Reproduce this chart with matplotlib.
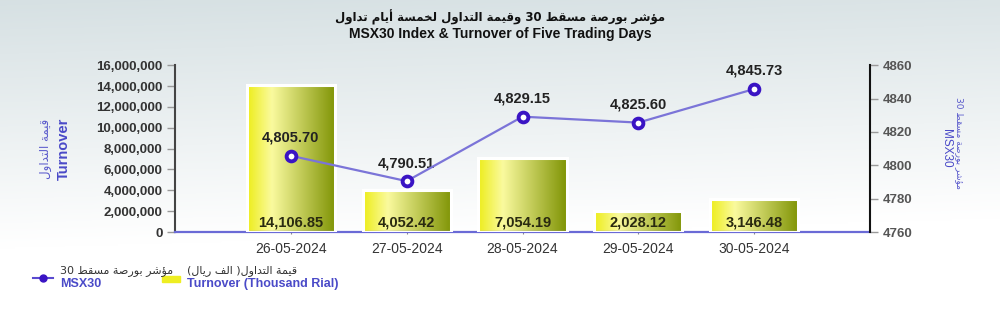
import re
import numpy as np
import matplotlib
matplotlib.use("Agg")
import matplotlib.pyplot as plt
from matplotlib.lines import Line2D
from matplotlib.patches import Rectangle

# ---------------- data ----------------
dates = ["26-05-2024", "27-05-2024", "28-05-2024", "29-05-2024", "30-05-2024"]
turnover_k = [14106.85, 4052.42, 7054.19, 2028.12, 3146.48]      # thousand rial
msx30 = [4805.70, 4790.51, 4829.15, 4825.60, 4845.73]
left_ticks = [0, 2000000, 4000000, 6000000, 8000000, 10000000, 12000000, 14000000, 16000000]
right_ticks = [4760, 4780, 4800, 4820, 4840, 4860]

title_ar = "مؤشر بورصة مسقط 30 وقيمة التداول لخمسة أيام تداول"
title_en = "MSX30 Index & Turnover of Five Trading Days"
ylab_left_ar = "قيمة التداول"
ylab_left_en = "Turnover"
ylab_right_ar = "مؤشر بورصة مسقط 30"
ylab_right_en = "MSX30"
leg1_ar = "مؤشر بورصة مسقط 30"
leg1_en = "MSX30"
leg2_ar = "قيمة التداول( الف ريال)"
leg2_en = "Turnover (Thousand Rial)"

# ---------------- minimal Arabic shaping ----------------
_BASE = [("\u0621", 0xFE80, 1), ("\u0622", 0xFE81, 2), ("\u0623", 0xFE83, 2),
         ("\u0624", 0xFE85, 2), ("\u0625", 0xFE87, 2), ("\u0626", 0xFE89, 4),
         ("\u0627", 0xFE8D, 2), ("\u0628", 0xFE8F, 4), ("\u0629", 0xFE93, 2),
         ("\u062A", 0xFE95, 4), ("\u062B", 0xFE99, 4), ("\u062C", 0xFE9D, 4),
         ("\u062D", 0xFEA1, 4), ("\u062E", 0xFEA5, 4), ("\u062F", 0xFEA9, 2),
         ("\u0630", 0xFEAB, 2), ("\u0631", 0xFEAD, 2), ("\u0632", 0xFEAF, 2),
         ("\u0633", 0xFEB1, 4), ("\u0634", 0xFEB5, 4), ("\u0635", 0xFEB9, 4),
         ("\u0636", 0xFEBD, 4), ("\u0637", 0xFEC1, 4), ("\u0638", 0xFEC5, 4),
         ("\u0639", 0xFEC9, 4), ("\u063A", 0xFECD, 4), ("\u0641", 0xFED1, 4),
         ("\u0642", 0xFED5, 4), ("\u0643", 0xFED9, 4), ("\u0644", 0xFEDD, 4),
         ("\u0645", 0xFEE1, 4), ("\u0646", 0xFEE5, 4), ("\u0647", 0xFEE9, 4),
         ("\u0648", 0xFEED, 2), ("\u0649", 0xFEEF, 2), ("\u064A", 0xFEF1, 4)]
FORMS = {}
for ch, start, n in _BASE:
    f = [chr(start + k) for k in range(n)] + [None] * (4 - n)
    FORMS[ch] = tuple(f)
LAMALEF = {"\u0622": 0xFEF5, "\u0623": 0xFEF7, "\u0625": 0xFEF9, "\u0627": 0xFEFB}


def _dual(c):
    return c in FORMS and FORMS[c][2] is not None


def _shape(s):
    out = []
    i, n = 0, len(s)
    while i < n:
        c = s[i]
        if c not in FORMS:
            out.append(c)
            i += 1
            continue
        prev = s[i - 1] if i > 0 else ""
        jp = _dual(prev)
        if c == "\u0644" and i + 1 < n and s[i + 1] in LAMALEF:
            base = LAMALEF[s[i + 1]]
            out.append(chr(base + 1) if jp else chr(base))
            i += 2
            continue
        nxt = s[i + 1] if i + 1 < n else ""
        jn = _dual(c) and nxt in FORMS
        iso, fin, ini, med = FORMS[c]
        if jp and jn:
            g = med
        elif jp:
            g = fin
        elif jn:
            g = ini
        else:
            g = iso
        out.append(g or iso)
        i += 1
    return "".join(out)


def ar(s):
    t = _shape(s)[::-1]
    t = re.sub(r"[0-9A-Za-z.,]+", lambda m: m.group(0)[::-1], t)
    return t.translate(str.maketrans("()", ")("))


AR_FONT = ["DejaVu Sans"]
EN_FONT = ["Liberation Sans", "DejaVu Sans"]

# ---------------- figure ----------------
fig = plt.figure(figsize=(10, 3.1), dpi=100)

# background gradient
bg = fig.add_axes([0, 0, 1, 1], zorder=-10)
yy = np.linspace(0, 1, 200)[:, None]
xx = np.linspace(0, 1, 300)[None, :]
top = np.array([0.84, 0.88, 0.89])
bot = np.array([1.0, 1.0, 1.0])
w = np.clip(yy * 1.25, 0, 1)[..., None] * np.ones_like(xx)[..., None]
w = np.clip(w + 0.12 * xx[..., None], 0, 1)
img = top * (1 - w) + bot * w
bg.imshow(img, aspect="auto", extent=[0, 1, 0, 1], origin="upper")
bg.axis("off")

ax = fig.add_axes([0.175, 0.2516, 0.695, 0.538])
ax.set_facecolor("none")
x = np.arange(len(dates))
heights = [v * 1000 for v in turnover_k]
bw = 0.76

# gradient for bars
gx = np.linspace(0, 1, 256)
c_left = np.array([0.93, 0.93, 0.10])
c_light = np.array([0.98, 0.98, 0.62])
c_right = np.array([0.50, 0.58, 0.02])
grad = np.zeros((1, 256, 3))
for k, t in enumerate(gx):
    if t < 0.28:
        u = t / 0.28
        grad[0, k] = c_left * (1 - u) + c_light * u
    else:
        u = (t - 0.28) / 0.72
        grad[0, k] = c_light * (1 - u) + c_right * u

bars = ax.bar(x, heights, width=bw, color="none", edgecolor="white", linewidth=2.2, zorder=3)
for rect in bars:
    x0, h = rect.get_x(), rect.get_height()
    im = ax.imshow(grad, aspect="auto", extent=[x0, x0 + bw, 0, h], zorder=2, origin="lower")
    im.set_clip_path(rect)

ax.set_xlim(-1, 5)
ax.set_ylim(0, 16000000)
ax.set_yticks(left_ticks)
ax.set_yticklabels([f"{v:,}" for v in left_ticks], fontsize=9.5, fontweight="bold",
                   color="#333333", family=EN_FONT)
ax.set_xticks(x)
ax.set_xticklabels(dates, fontsize=10, color="#333333", family=EN_FONT)
ax.tick_params(axis="x", length=3, direction="inout", color="#888888", pad=6)
ax.tick_params(axis="y", length=6, width=1, color="#999999", pad=3)
for s in ["top", "right"]:
    ax.spines[s].set_visible(False)
ax.spines["left"].set_color("#444444")
ax.spines["left"].set_linewidth(1.5)
ax.spines["bottom"].set_color("#6a6ad6")
ax.spines["bottom"].set_linewidth(1.6)

for xi, v in zip(x, turnover_k):
    ax.annotate(f"{v:,.2f}", (xi, 0), xytext=(0, 2), textcoords="offset points",
                ha="center", va="bottom", fontsize=10.5, fontweight="bold",
                color="#2a2a10", family=EN_FONT, zorder=5)

ax2 = ax.twinx()
ax2.set_ylim(4760, 4860)
ax2.set_yticks(right_ticks)
ax2.set_yticklabels([str(v) for v in right_ticks], fontsize=9.5, fontweight="bold",
                    color="#555555", family=EN_FONT)
ax2.tick_params(axis="y", length=6, width=1, color="#999999", pad=3)
for s in ["top", "left", "bottom"]:
    ax2.spines[s].set_visible(False)
ax2.spines["right"].set_color("#111111")
ax2.spines["right"].set_linewidth(1.5)
ax2.plot(x, msx30, color="#7b74d8", linewidth=1.6, marker="o", markersize=7,
         markerfacecolor="white", markeredgecolor="#3a14c4", markeredgewidth=2.8, zorder=6)
for xi, v in zip(x, msx30):
    ax2.annotate(f"{v:,.2f}", (xi, v), xytext=(0, 8), textcoords="offset points",
                 ha="center", va="bottom", fontsize=10.5, fontweight="bold",
                 color="#222222", family=EN_FONT)

# titles
fig.text(0.5, 0.945, ar(title_ar), ha="center", va="center", fontsize=8.5,
         fontweight="bold", color="#111111", family=AR_FONT)
fig.text(0.5, 0.891, title_en, ha="center", va="center", fontsize=10,
         fontweight="bold", color="#111111", family=EN_FONT)

# axis labels
fig.text(0.045, 0.52, ar(ylab_left_ar), rotation=90, ha="center", va="center",
         fontsize=8.5, color="#5a5acc", family=AR_FONT)
fig.text(0.064, 0.52, ylab_left_en, rotation=90, ha="center", va="center",
         fontsize=10.5, fontweight="bold", color="#4a4ac8", family=EN_FONT)
fig.text(0.959, 0.54, ar(ylab_right_ar), rotation=270, ha="center", va="center",
         fontsize=6.5, color="#5a5acc", family=AR_FONT)
fig.text(0.946, 0.52, ylab_right_en, rotation=270, ha="center", va="center",
         fontsize=8.5, color="#4a4ac8", family=EN_FONT)

# legend (manual)
lg = fig.add_axes([0, 0, 1, 0.2], zorder=5)
lg.set_xlim(0, 1000)
lg.set_ylim(62, 0)
lg.axis("off")
lg.add_line(Line2D([33, 53], [30, 30], color="#5a4ad0", linewidth=1.5))
lg.plot([43], [30], marker="o", markersize=5, color="#3a14c4")
lg.text(60, 23, ar(leg1_ar), ha="left", va="center", fontsize=8, color="#333333", family=AR_FONT)
lg.text(60, 36, leg1_en, ha="left", va="center", fontsize=9, fontweight="bold",
        color="#4a4ac8", family=EN_FONT)
lg.add_patch(Rectangle((162, 28), 18, 6, color="#eeee22"))
lg.text(187, 23, ar(leg2_ar), ha="left", va="center", fontsize=8, color="#333333", family=AR_FONT)
lg.text(187, 36, leg2_en, ha="left", va="center", fontsize=9, fontweight="bold",
        color="#4a4ac8", family=EN_FONT)

fig.savefig("out.png", dpi=100)
